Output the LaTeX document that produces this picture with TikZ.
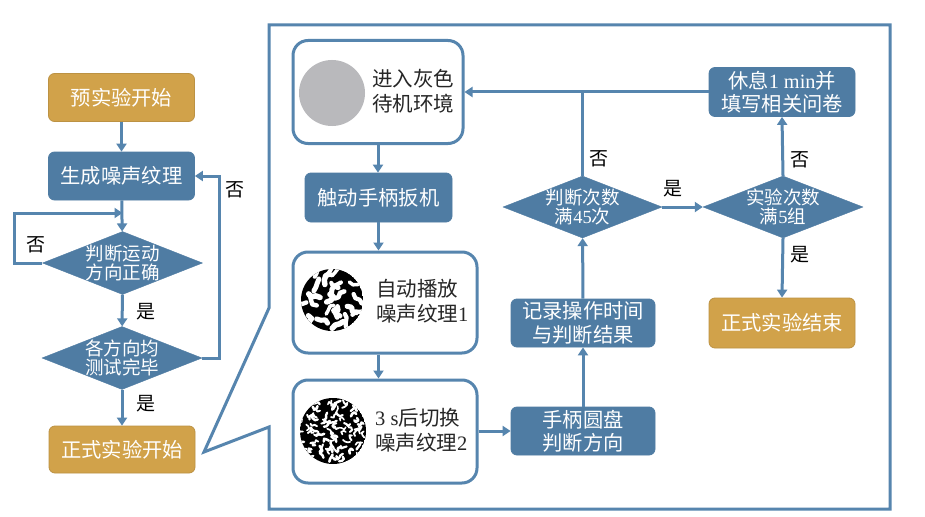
\documentclass[tikz,border=0pt]{standalone}
\usepackage{fontspec}
\setmainfont{Noto Sans CJK SC}
\newfontfamily\latfont{Liberation Serif}
\newcommand\lat[1]{{\latfont #1}}
\usetikzlibrary{arrows.meta,shapes.geometric,calc}
\definecolor{fblue}{HTML}{4F7CA3}
\definecolor{lblue}{HTML}{5685AE}
\definecolor{fgold}{HTML}{D1A24A}
\definecolor{cgray}{HTML}{B9B9BC}
\tikzset{
  bluebox/.style={rectangle,rounded corners=6pt,fill=fblue,draw=fblue,line width=0.8pt,
    text=white,align=center,font=\fontsize{20.3}{23.5}\selectfont,inner sep=0pt},
  goldbox/.style={bluebox,fill=fgold,draw=fgold!90!black},
  whitebox/.style={rectangle,rounded corners=15pt,fill=white,draw=lblue,line width=3pt,inner sep=0pt},
  wtext/.style={align=left,text=black!85,font=\fontsize{20.5}{24.5}\selectfont,inner sep=0pt,anchor=west},
  dia/.style={diamond,fill=fblue,draw=fblue,inner sep=0pt,minimum width=160pt,minimum height=63pt},
  dlab/.style={align=center,text=white,font=\fontsize{18.5}{19.5}\selectfont,inner sep=0pt},
  yn/.style={text=black,font=\fontsize{19}{20}\selectfont,inner sep=0pt},
  conn/.style={draw=lblue,line width=3pt,-{Triangle[length=8pt,width=10pt]}},
  plain/.style={draw=lblue,line width=3pt},
  frame/.style={draw=lblue,line width=3pt,line join=miter},
  worm/.style={draw=white,line cap=round,line join=round}
}
\begin{document}
\begin{tikzpicture}[x=1pt,y=-1pt]
\useasboundingbox (0,0) rectangle (925,516);
\fill[white] (0,0) rectangle (925,516);

% ---------- outer callout frame ----------
\draw[frame] (269,308) -- (269,25) -- (890,25) -- (890,509) -- (269,509) -- (269,427) -- (204,452) -- cycle;

% ---------- left column ----------
\node[goldbox,minimum width=146pt,minimum height=48pt] (pre) at (121.5,97.5) {预实验开始};
\node[bluebox,minimum width=146pt,minimum height=48pt] (gen) at (121.5,176) {生成噪声纹理};
\node[dia,label={[dlab]center:{判断运动\\方向正确}}] (d1) at (122.5,263) {};
\node[dia,label={[dlab]center:{各方向均\\测试完毕}}] (d2) at (122,358) {};
\node[goldbox,minimum width=146pt,minimum height=47pt] (start) at (122,449.5) {正式实验开始};
\coordinate (j1) at (122.5,213);

\draw[conn] (pre) -- (gen);
\draw[conn] (gen) -- (d1);
\draw[conn] (d1.west) -- ++(-28,0) |- (j1);
\draw[conn] (d1) -- (d2);
\draw[conn] (d2.east) -- ++(17,0) |- (gen.east);
\draw[conn] (d2) -- (start);
\node[yn] (n1) at (36,245) {否};
\node[yn] (n2) at (235,190) {否};
\node[yn] (y1) at (146,312) {是};
\node[yn] (y2) at (146,404) {是};

% ---------- inner flow: left column ----------
\node[whitebox,minimum width=170pt,minimum height=103pt] (gray) at (378,92) {};
\fill[cgray] (332,93) circle[radius=33];
\node[wtext] (grayt) at (372,91) {进入灰色\\待机环境};

\node[bluebox,minimum width=147pt,minimum height=49pt] (trig) at (378.5,197.5) {触动手柄扳机};

\node[whitebox,minimum width=184pt,minimum height=101pt] (tex1) at (385,302.5) {};
\coordinate (t1c) at (332,300);
\begin{scope}
  \clip (t1c) circle[radius=31];
  \fill[black] (t1c) circle[radius=31];
  \pgfmathsetseed{23}
  \foreach \b in {1,...,24}{
    \pgfmathsetmacro\rad{31*sqrt((\b-0.5)/24)}
    \pgfmathsetmacro\ang{\b*137.508}
    \pgfmathsetmacro\px{\rad*cos(\ang)+2*rand}
    \pgfmathsetmacro\py{\rad*sin(\ang)+2*rand}
    \pgfmathsetmacro\wa{360*rnd}
    \pgfmathsetmacro\wb{\wa+100*rand}
    \pgfmathsetmacro\wc{\wb+100*rand}
    \pgfmathsetmacro\lw{3.4+2.2*rnd}
    \draw[worm,line width=\lw pt] ($(t1c)+(\px,\py)$) -- ++(\wa:4.5) -- ++(\wb:4.5) -- ++(\wc:4);
  }
\end{scope}
\node[wtext] (tex1t) at (376,301) {自动播放\\噪声纹理\lat{1}};

\node[whitebox,minimum width=184pt,minimum height=103pt] (tex2) at (385,431.5) {};
\coordinate (t2c) at (333,431);
\begin{scope}
  \clip (t2c) circle[radius=33];
  \fill[black] (t2c) circle[radius=33];
  \pgfmathsetseed{7}
  \foreach \b in {1,...,80}{
    \pgfmathsetmacro\rad{33*sqrt((\b-0.5)/80)}
    \pgfmathsetmacro\ang{\b*137.508}
    \pgfmathsetmacro\px{\rad*cos(\ang)+1.5*rand}
    \pgfmathsetmacro\py{\rad*sin(\ang)+1.5*rand}
    \pgfmathsetmacro\wa{360*rnd}
    \pgfmathsetmacro\wb{\wa+110*rand}
    \pgfmathsetmacro\wc{\wb+110*rand}
    \pgfmathsetmacro\lw{1.5+1.1*rnd}
    \draw[worm,line width=\lw pt] ($(t2c)+(\px,\py)$) -- ++(\wa:2.8) -- ++(\wb:2.8) -- ++(\wc:2.4);
  }
\end{scope}
\node[wtext] (tex2t) at (375,430) {\lat{3 s}后切换\\噪声纹理\lat{2}};

\draw[conn] (gray.south) -- (gray.south |- trig.north);
\draw[conn] (trig.south) -- (trig.south |- tex1.north);
\draw[conn] (tex1.south -| trig.south) -- (trig.south |- tex2.north);

% ---------- inner flow: right part ----------
\node[bluebox,minimum width=144pt,minimum height=48pt] (hand) at (583,431) {手柄圆盘\\判断方向};
\node[bluebox,minimum width=144pt,minimum height=48pt] (rec) at (583,323) {记录操作时间\\与判断结果};
\node[dia,minimum width=159pt,minimum height=62pt,label={[dlab]center:{判断次数\\满\lat{45}次}}] (d45) at (582.5,207) {};
\node[dia,minimum width=160pt,minimum height=62pt,label={[dlab]center:{实验次数\\满\lat{5}组}}] (d5) at (783,207) {};
\node[bluebox,minimum width=146pt,minimum height=49pt] (rest) at (782,92) {休息\lat{1 min}并\\填写相关问卷};
\node[goldbox,minimum width=146pt,minimum height=50pt] (end) at (782,323) {正式实验结束};

\draw[conn] (tex2.east |- hand.west) -- (hand.west);
\draw[conn] (hand) -- (rec);
\draw[conn] (rec) -- (d45);
\draw[plain] (d45.north) -- (d45.north |- rest.west);
\draw[conn] (rest.west) -- (gray.east);
\draw[conn] (d45.east) -- (d5.west);
\draw[conn] (d5.north) -- (rest.south);
\draw[conn] (d5.south) -- (end.north);
\node[yn] (n3) at (599,159) {否};
\node[yn] (y3) at (673,189) {是};
\node[yn] (n4) at (800,160) {否};
\node[yn] (y4) at (800,255) {是};
\end{tikzpicture}
\end{document}
